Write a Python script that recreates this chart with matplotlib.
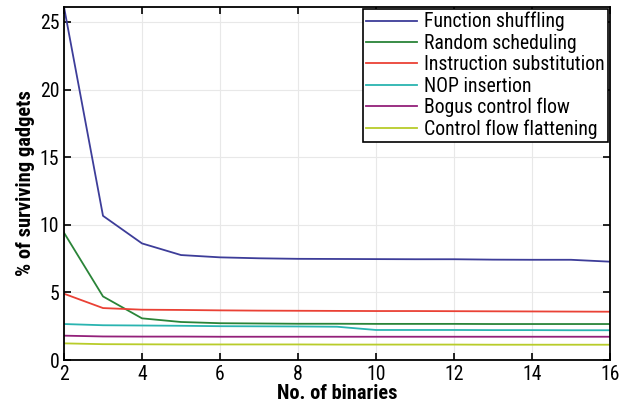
import matplotlib
matplotlib.use('Agg')
import matplotlib.pyplot as plt

plt.rcParams['font.family'] = ['Roboto Condensed', 'DejaVu Sans']

x = [2, 3, 4, 5, 6, 7, 8, 9, 10, 11, 12, 13, 14, 15, 16]

func_shuffling = [26.1, 10.66, 8.62, 7.76, 7.59, 7.52, 7.48, 7.47, 7.46, 7.45, 7.45, 7.42, 7.41, 7.41, 7.27]
random_sched = [9.41, 4.70, 3.08, 2.81, 2.72, 2.70, 2.68, 2.68, 2.67, 2.67, 2.67, 2.66, 2.66, 2.66, 2.66]
instr_subst = [4.90, 3.84, 3.72, 3.70, 3.67, 3.65, 3.64, 3.63, 3.62, 3.62, 3.61, 3.60, 3.59, 3.58, 3.57]
nop_insert = [2.66, 2.57, 2.55, 2.53, 2.50, 2.49, 2.48, 2.46, 2.22, 2.22, 2.22, 2.21, 2.21, 2.20, 2.20]
bogus_flow = [1.80, 1.74, 1.73, 1.73, 1.72, 1.72, 1.72, 1.72, 1.72, 1.72, 1.72, 1.72, 1.72, 1.72, 1.72]
flattening = [1.23, 1.17, 1.16, 1.15, 1.15, 1.15, 1.15, 1.14, 1.14, 1.14, 1.14, 1.13, 1.13, 1.13, 1.13]

series = [
    ('Function shuffling', func_shuffling, '#3d3d99'),
    ('Random scheduling', random_sched, '#2a8438'),
    ('Instruction substitution', instr_subst, '#ea4135'),
    ('NOP insertion', nop_insert, '#2ab4b0'),
    ('Bogus control flow', bogus_flow, '#93207a'),
    ('Control flow flattening', flattening, '#b8cc2a'),
]

fig = plt.figure(figsize=(6.19, 4.11), dpi=100)
ax = fig.add_axes([64/619, 1 - 360/411, (610-64)/619, (360-7)/411])

for name, vals, col in series:
    ax.plot(x, vals, color=col, lw=1.3, label=name)

ax.set_xlim(2, 16)
ax.set_ylim(0, 26.1)
ax.set_xticks(range(2, 17, 2))
ax.set_yticks([0, 5, 10, 15, 20, 25])
ax.grid(True, color='#e8e8e8', lw=0.8)
ax.tick_params(direction='in', top=True, right=True, length=5, width=1.2,
               labelsize=14.2, pad=3.5)
for s in ax.spines.values():
    s.set_linewidth(1.3)

ax.set_xlabel('No. of binaries', fontsize=14.7, fontweight='bold', labelpad=0)
ax.set_ylabel('% of surviving gadgets', fontsize=14.8, fontweight='bold', labelpad=3)

leg = ax.legend(loc='upper right', fontsize=14.2, frameon=True, fancybox=False,
                edgecolor='black', borderpad=0.15, labelspacing=0.12,
                handlelength=2.55, handletextpad=0.4, borderaxespad=0.1)
leg.get_frame().set_linewidth(1.2)
leg.get_frame().set_alpha(1)

fig.savefig('out.png', dpi=100)
